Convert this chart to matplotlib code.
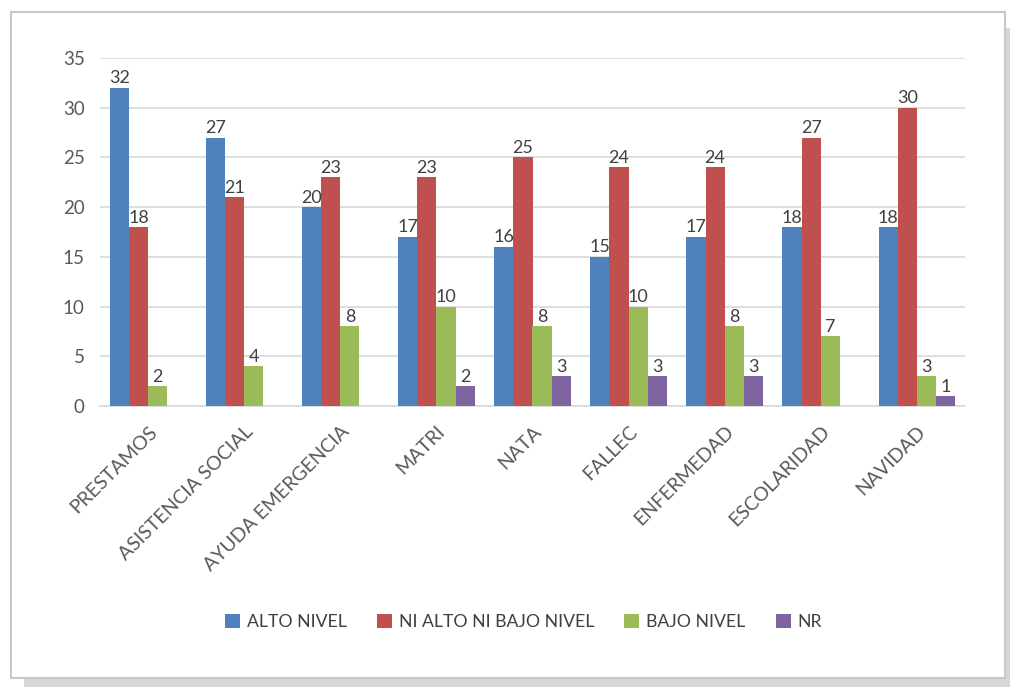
import matplotlib
matplotlib.use("Agg")
import matplotlib.pyplot as plt
import numpy as np
from matplotlib.patches import Rectangle

categories = ["PRESTAMOS", "ASISTENCIA SOCIAL", "AYUDA EMERGENCIA", "MATRI", "NATA",
              "FALLEC", "ENFERMEDAD", "ESCOLARIDAD", "NAVIDAD"]
series_names = ["ALTO NIVEL", "NI ALTO NI BAJO NIVEL", "BAJO NIVEL", "NR"]
alto = [32, 27, 20, 17, 16, 15, 17, 18, 18]
ni_alto_ni_bajo = [18, 21, 23, 23, 25, 24, 24, 27, 30]
bajo = [2, 4, 8, 10, 8, 10, 8, 7, 3]
nr = [None, None, None, 2, 3, 3, 3, None, 1]
colors = ["#4F81BD", "#C0504D", "#9BBB59", "#8064A2"]

plt.rcParams['font.family'] = ['Lato', 'DejaVu Sans']

fig = plt.figure(figsize=(10.11, 6.9), dpi=100)
fig.patch.set_facecolor("white")

# frame with shadow
shadow = Rectangle((0.024, 0.005), 0.975, 0.955, transform=fig.transFigure,
                   facecolor="#d6d6d6", edgecolor="none", zorder=0)
frame = Rectangle((0.011, 0.018), 0.983, 0.965, transform=fig.transFigure,
                  facecolor="white", edgecolor="#c8c8c8", linewidth=1.5, zorder=1)
fig.patches.extend([shadow, frame])

ax = fig.add_axes([100/1011, 284/690, 865/1011, (632-284)/690])
ax.set_zorder(2)
ax.patch.set_alpha(0)

x = np.arange(len(categories))
w = 0.2
data = [alto, ni_alto_ni_bajo, bajo, nr]
handles = []
for i, (vals, c, name) in enumerate(zip(data, colors, series_names)):
    v = np.array([np.nan if a is None else a for a in vals], dtype=float)
    bars = ax.bar(x + (i - 1.5) * w, np.nan_to_num(v), width=w, color=c, label=name, zorder=3)
    handles.append(bars)
    for xi, vi in zip(x + (i - 1.5) * w, v):
        if not np.isnan(vi):
            ax.text(xi, vi + 0.15, f"{int(vi)}", ha="center", va="bottom",
                    fontsize=13, color="#404040", zorder=4)

ax.set_xlim(-0.5, len(categories) - 0.5)
ax.set_ylim(0, 35)
ax.set_yticks(range(0, 36, 5))
ax.yaxis.grid(True, color="#d9d9d9", linewidth=1.2, zorder=0)
ax.set_axisbelow(True)
for s in ["top", "right", "left"]:
    ax.spines[s].set_visible(False)
ax.spines["bottom"].set_color("#d9d9d9")
ax.spines["bottom"].set_linewidth(1.2)
ax.tick_params(axis="y", length=0, colors="#595959", labelsize=13.5, pad=11)
ax.set_xticks(x)
ax.set_xticklabels(categories, rotation=45, ha="right", rotation_mode="anchor")
ax.tick_params(axis="x", length=0, colors="#595959", labelsize=14, pad=12)

leg = fig.legend(handles=handles, labels=series_names, loc="center",
                 bbox_to_anchor=(0.518, 0.099), ncol=4, frameon=False,
                 fontsize=12.7, handlelength=0.85, handleheight=0.85,
                 handletextpad=0.4, columnspacing=1.7)
for t in leg.get_texts():
    t.set_color("#404040")

fig.savefig("out.png", dpi=100, facecolor="white")
